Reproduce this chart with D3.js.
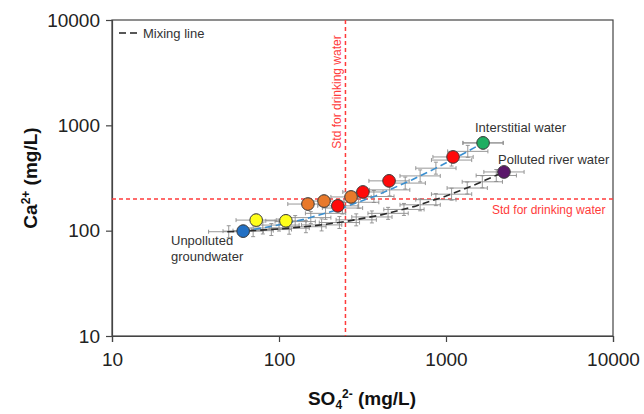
<!DOCTYPE html>
<html>
<head>
<meta charset="utf-8">
<script src="https://cdn.jsdelivr.net/npm/d3@7"></script>
<style>
  body { margin: 0; background: #fff; }
  svg { font-family: "Liberation Sans", Arial, sans-serif; }
  .axis path, .axis line { stroke: #444; stroke-width: 1.2; }
  .axis text { font-size: 19px; fill: #222; }
  .note { font-size: 13px; fill: #333; }
  .std { font-size: 12px; fill: #ff3b3b; }
</style>
</head>
<body>
<svg id="chart" width="644" height="414"></svg>
<script>
const svg = d3.select("#chart");

// measured samples
const sampleSO4 = [61, 73, 110, 149, 186, 225, 270, 318, 456, 1102, 1667, 2224];
const sampleCa  = [99, 126, 124, 179, 191, 172, 209, 233, 297, 501, 681, 361];
const sampleType = ["groundwater", "low", "low", "mid", "mid", "high", "mid", "high", "high", "high", "interstitial", "river"];
const typeNames = ["groundwater", "low", "mid", "high", "interstitial", "river"];
const typeColors = ["#2270c4", "#ffff1a", "#e8792b", "#ff0a0a", "#1fae62", "#5a176a"];

// mixing lines (groundwater -> interstitial, groundwater -> river)
const mixUpperSO4 = [61, 93, 141, 222, 382, 623, 864, 1185, 1667];
const mixUpperCa  = [99, 111, 128, 157, 215, 303, 390, 506, 681];
const mixLowerSO4 = [49, 61, 100, 160, 250, 400, 650, 1000, 1500, 2224];
const mixLowerCa  = [97.5, 99, 103.7, 111, 122, 140, 170, 213, 274, 361];

// modelled mixtures with uncertainty
const modelUpperSO4 = [80, 100, 125, 155, 190, 240, 300, 370, 460, 570, 700, 870, 1080, 1350, 1667];
const modelUpperCa  = [106, 113, 122, 133, 146, 164, 186, 211, 244, 283, 331, 392, 468, 566, 681];
const modelLowerSO4 = [50, 70, 90, 115, 145, 180, 230, 290, 360, 450, 560, 700, 870, 1080, 1340, 1650, 2000];
const modelLowerCa  = [97.7, 100, 102.5, 105.5, 109, 113.4, 119.5, 126.7, 135, 146, 159, 176, 197, 222, 254, 291, 334];
const so4ErrFactor = 1.32;
const caErrFactor = 1.14;

// drinking water standards
const stdSO4 = 250;
const stdCa = 200;

const axisTicks = [10, 100, 1000, 10000];

const x = d3.scaleLog().domain([10, 10000]).range([112, 613]);
const y = d3.scaleLog().domain([10, 10000]).range([336, 20]);
const color = d3.scaleOrdinal().domain(typeNames).range(typeColors);

// frame
svg.append("rect")
  .attr("x", x(10)).attr("y", y(10000))
  .attr("width", x(10000) - x(10)).attr("height", y(10) - y(10000))
  .attr("fill", "none").attr("stroke", "#444").attr("stroke-width", 1.2);

// axes
svg.append("g").attr("class", "axis")
  .attr("transform", `translate(0,${y(10)})`)
  .call(d3.axisBottom(x).tickValues(axisTicks).tickFormat(d3.format("d")).tickSize(6).tickPadding(11));

svg.append("g").attr("class", "axis")
  .attr("transform", `translate(${x(10)},0)`)
  .call(d3.axisLeft(y).tickValues(axisTicks).tickFormat(d3.format("d")).tickSize(6).tickPadding(6));

// standards
svg.append("line")
  .attr("x1", x(10)).attr("x2", x(10000))
  .attr("y1", y(stdCa)).attr("y2", y(stdCa))
  .attr("stroke", "#ff3b3b").attr("stroke-width", 1.5).attr("stroke-dasharray", "4,3");
svg.append("line")
  .attr("x1", x(stdSO4)).attr("x2", x(stdSO4))
  .attr("y1", y(10000)).attr("y2", y(10))
  .attr("stroke", "#ff3b3b").attr("stroke-width", 1.5).attr("stroke-dasharray", "4,3");

// error bars of modelled mixtures and samples
const errPts = []
  .concat(modelUpperSO4.map((v, i) => [v, modelUpperCa[i]]))
  .concat(modelLowerSO4.map((v, i) => [v, modelLowerCa[i]]))
  .concat(sampleSO4.map((v, i) => [v, sampleCa[i]]));

const err = svg.append("g").attr("stroke", "#8c8c8c").attr("stroke-width", 0.9);
errPts.forEach(([s, c]) => {
  const px = x(s), py = y(c);
  const x0 = x(s / so4ErrFactor), x1 = x(s * so4ErrFactor);
  const y0 = y(c / caErrFactor), y1 = y(c * caErrFactor);
  err.append("line").attr("x1", x0).attr("x2", x1).attr("y1", py).attr("y2", py);
  err.append("line").attr("x1", x0).attr("x2", x0).attr("y1", py - 2).attr("y2", py + 2);
  err.append("line").attr("x1", x1).attr("x2", x1).attr("y1", py - 2).attr("y2", py + 2);
  err.append("line").attr("x1", px).attr("x2", px).attr("y1", y0).attr("y2", y1);
  err.append("line").attr("x1", px - 2).attr("x2", px + 2).attr("y1", y0).attr("y2", y0);
  err.append("line").attr("x1", px - 2).attr("x2", px + 2).attr("y1", y1).attr("y2", y1);
});

// mixing lines
const line = d3.line().x(d => x(d[0])).y(d => y(d[1]));
svg.append("path")
  .attr("d", line(mixLowerSO4.map((v, i) => [v, mixLowerCa[i]])))
  .attr("fill", "none").attr("stroke", "#2a2a2a").attr("stroke-width", 1.6).attr("stroke-dasharray", "7,4");
svg.append("path")
  .attr("d", line(mixUpperSO4.map((v, i) => [v, mixUpperCa[i]])))
  .attr("fill", "none").attr("stroke", "#3a8fd0").attr("stroke-width", 1.6).attr("stroke-dasharray", "7,4");

// samples
svg.append("g").selectAll("circle")
  .data(sampleSO4.map((v, i) => ({ so4: v, ca: sampleCa[i], type: sampleType[i] })))
  .join("circle")
  .attr("cx", d => x(d.so4)).attr("cy", d => y(d.ca)).attr("r", 6.3)
  .attr("fill", d => color(d.type)).attr("stroke", "#3a3a3a").attr("stroke-width", 1);

// legend
svg.append("line")
  .attr("x1", 119).attr("x2", 140).attr("y1", 33).attr("y2", 33)
  .attr("stroke", "#222").attr("stroke-width", 1.6).attr("stroke-dasharray", "7,4");
svg.append("text").attr("class", "note").attr("x", 143).attr("y", 37.5).text("Mixing line");

// annotations
svg.append("text").attr("class", "note").attr("x", 475).attr("y", 131.5).text("Interstitial water");
svg.append("text").attr("class", "note").attr("x", 498).attr("y", 164).text("Polluted river water");
svg.append("text").attr("class", "note").attr("x", 171).attr("y", 245).text("Unpolluted");
svg.append("text").attr("class", "note").attr("x", 171).attr("y", 261).text("groundwater");
svg.append("text").attr("class", "std").attr("x", 492).attr("y", 214).text("Std for drinking water");
svg.append("text").attr("class", "std")
  .attr("transform", `translate(${x(stdSO4) - 4},92) rotate(-90)`)
  .attr("text-anchor", "middle").text("Std for drinking water");

// axis titles
const xt = svg.append("text").attr("x", 362).attr("y", 405)
  .attr("text-anchor", "middle").attr("font-size", 19).attr("font-weight", "bold").attr("fill", "#111");
xt.append("tspan").text("SO");
xt.append("tspan").attr("font-size", 12).attr("dy", 4).text("4");
xt.append("tspan").attr("font-size", 12).attr("dy", -11).text("2-");
xt.append("tspan").attr("dy", 7).text(" (mg/L)");

const yt = svg.append("text").attr("transform", "translate(37,178) rotate(-90)")
  .attr("text-anchor", "middle").attr("font-size", 19).attr("font-weight", "bold").attr("fill", "#111");
yt.append("tspan").text("Ca");
yt.append("tspan").attr("font-size", 12).attr("dy", -7).text("2+");
yt.append("tspan").attr("dy", 7).text(" (mg/L)");
</script>
</body>
</html>
